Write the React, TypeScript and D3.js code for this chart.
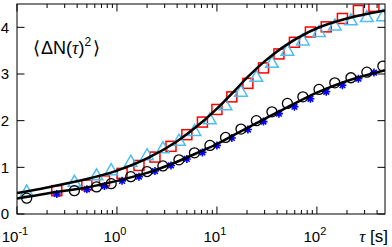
import React from "react";
import * as d3 from "d3";

// sampling times (s) of the two marker grids
const tTri = [0.125, 0.375, 0.625, 0.875, 1.375, 2.0, 2.88, 4.17, 5.96, 8.51, 12.2, 17.4, 24.8, 35.5, 50.7, 72.4, 105, 151, 219, 316, 457];
const tSq = [0.25, 0.5, 0.75, 1.125, 1.66, 2.4, 3.47, 5.0, 7.16, 10, 14.1, 20.4, 29.2, 41.7, 59.6, 86.1, 124, 180, 260, 372];

// series values
const triVals = [0.48, 0.69, 0.83, 0.94, 1.12, 1.26, 1.41, 1.57, 1.78, 2.03, 2.33, 2.62, 2.94, 3.24, 3.5, 3.72, 3.9, 4.04, 4.15, 4.22, 4.24];
const circVals = [0.34, 0.5, 0.58, 0.65, 0.8, 0.91, 1.03, 1.16, 1.31, 1.47, 1.64, 1.82, 2.0, 2.19, 2.37, 2.51, 2.67, 2.81, 2.92, 3.04, 3.17];
const sqVals = [0.5, 0.62, 0.71, 0.87, 1.04, 1.22, 1.45, 1.7, 1.97, 2.24, 2.51, 2.8, 3.13, 3.43, 3.68, 3.9, 4.01, 4.19, 4.36, 4.45];
const starVals = [0.43, 0.53, 0.6, 0.71, 0.8, 0.92, 1.04, 1.18, 1.32, 1.47, 1.63, 1.81, 1.98, 2.15, 2.3, 2.47, 2.62, 2.76, 2.9, 3.03];

// fitted curves
const fitT = [0.1, 0.2, 0.5, 1, 2, 4, 7, 10, 15, 20, 30, 50, 100, 200, 480];
const fitUpper = [0.45, 0.57, 0.75, 0.93, 1.19, 1.56, 1.96, 2.26, 2.64, 2.92, 3.27, 3.63, 3.98, 4.19, 4.36];
const fitLower = [0.33, 0.44, 0.57, 0.71, 0.88, 1.12, 1.35, 1.5, 1.7, 1.84, 2.04, 2.28, 2.6, 2.85, 3.08];

const xMajor = [0.1, 1, 10, 100];
const xMajorExp = ["-1", "0", "1", "2"];
const yTicks = [0, 1, 2, 3, 4];

const W = 392;
const H = 247;
const margin = { top: 4, right: 7, bottom: 33, left: 17 };
const font = "'Liberation Sans', Arial, sans-serif";

export default function App() {
  const iw = W - margin.left - margin.right;
  const ih = H - margin.top - margin.bottom;

  const x = d3.scaleLog().domain([0.1, 480]).range([0, iw]);
  const y = d3.scaleLinear().domain([0, 4.5]).range([ih, 0]);

  const minor: number[] = [];
  [0.1, 1, 10, 100].forEach((d) => {
    for (let k = 2; k <= 9; k++) if (d * k < 480) minor.push(d * k);
  });

  const line = d3
    .line<[number, number]>()
    .x((d) => x(d[0]))
    .y((d) => y(d[1]))
    .curve(d3.curveCatmullRom.alpha(0.5));

  const upper = fitT.map((t, i) => [t, fitUpper[i]] as [number, number]);
  const lower = fitT.map((t, i) => [t, fitLower[i]] as [number, number]);

  const majLen = 7.5;
  const minLen = 4;

  return (
    <svg width={W} height={H} style={{ position: "absolute", left: 0, top: 0, background: "#fff" }}>
      <defs>
        <clipPath id="plot-clip">
          <rect x={0} y={0} width={iw} height={ih} />
        </clipPath>
      </defs>
      <g transform={`translate(${margin.left},${margin.top})`}>
        <g clipPath="url(#plot-clip)">
          {tSq.map((t, i) => (
            <rect
              key={"s" + i}
              x={x(t) - 5}
              y={y(sqVals[i]) - 5}
              width={10}
              height={10}
              fill="none"
              stroke="#ff0000"
              strokeWidth={1.5}
            />
          ))}
          {tTri.map((t, i) => {
            const cx = x(t);
            const cy = y(triVals[i]);
            return (
              <path
                key={"t" + i}
                d={`M${cx},${cy - 6.5} L${cx + 6.3},${cy + 4.5} L${cx - 6.3},${cy + 4.5} Z`}
                fill="none"
                stroke="#4dbeee"
                strokeWidth={1.5}
              />
            );
          })}
          {tSq.map((t, i) => {
            const cx = x(t);
            const cy = y(starVals[i]);
            const r = 4;
            const q = r * 0.707;
            return (
              <path
                key={"a" + i}
                d={`M${cx - r},${cy}H${cx + r}M${cx},${cy - r}V${cy + r}M${cx - q},${cy - q}L${cx + q},${cy + q}M${cx - q},${cy + q}L${cx + q},${cy - q}`}
                stroke="#0000ff"
                strokeWidth={1.6}
              />
            );
          })}
          {tTri.map((t, i) => (
            <circle
              key={"c" + i}
              cx={x(t)}
              cy={y(circVals[i])}
              r={5}
              fill="none"
              stroke="#000"
              strokeWidth={1.3}
            />
          ))}
          <path d={line(upper) ?? ""} fill="none" stroke="#000" strokeWidth={2.5} />
          <path d={line(lower) ?? ""} fill="none" stroke="#000" strokeWidth={2.5} />
        </g>

        {/* frame */}
        <rect x={0} y={0} width={iw} height={ih} fill="none" stroke="#000" strokeWidth={1} />

        {/* x ticks, bottom and top */}
        {xMajor.map((t) => (
          <g key={"xm" + t}>
            <line x1={x(t)} x2={x(t)} y1={ih} y2={ih - majLen} stroke="#000" />
            <line x1={x(t)} x2={x(t)} y1={0} y2={majLen} stroke="#000" />
          </g>
        ))}
        {minor.map((t) => (
          <g key={"xn" + t}>
            <line x1={x(t)} x2={x(t)} y1={ih} y2={ih - minLen} stroke="#000" />
            <line x1={x(t)} x2={x(t)} y1={0} y2={minLen} stroke="#000" />
          </g>
        ))}
        {/* y ticks, left and right */}
        {yTicks.map((v) => (
          <g key={"y" + v}>
            <line x1={0} x2={majLen} y1={y(v)} y2={y(v)} stroke="#000" />
            <line x1={iw} x2={iw - majLen} y1={y(v)} y2={y(v)} stroke="#000" />
            <text
              x={-8}
              y={y(v)}
              dy="0.36em"
              textAnchor="end"
              fontFamily={font}
              fontSize={15}
              fill="#000"
            >
              {v}
            </text>
          </g>
        ))}

        {xMajor.map((t, i) => (
          <text
            key={"xl" + t}
            x={x(t) - 2}
            y={ih + 27.5}
            textAnchor="middle"
            fontFamily={font}
            fontSize={15}
            fill="#000"
          >
            10
            <tspan dy={-7} fontSize={11}>
              {xMajorExp[i]}
            </tspan>
          </text>
        ))}

        {/* axis label */}
        <text x={iw + 3} y={ih + 27.5} textAnchor="end" fontFamily={font} fontSize={17} fill="#000">
          <tspan fontFamily="'Liberation Serif', serif" fontStyle="italic">
            τ
          </tspan>
          <tspan> [s]</tspan>
        </text>

        <text x={16} y={50} fontFamily={font} fontSize={18} fill="#000">
          <tspan fontFamily="'DejaVu Sans', sans-serif" fontWeight={200}>⟨</tspan>
          <tspan dx={1}>ΔN(</tspan>
          <tspan fontFamily="'Liberation Serif', serif" fontStyle="italic">τ</tspan>
          <tspan>)</tspan>
          <tspan dy={-8} fontSize={12}>2</tspan>
          <tspan dx={2} dy={8} fontFamily="'DejaVu Sans', sans-serif" fontWeight={200}>⟩</tspan>
        </text>
      </g>
    </svg>
  );
}
